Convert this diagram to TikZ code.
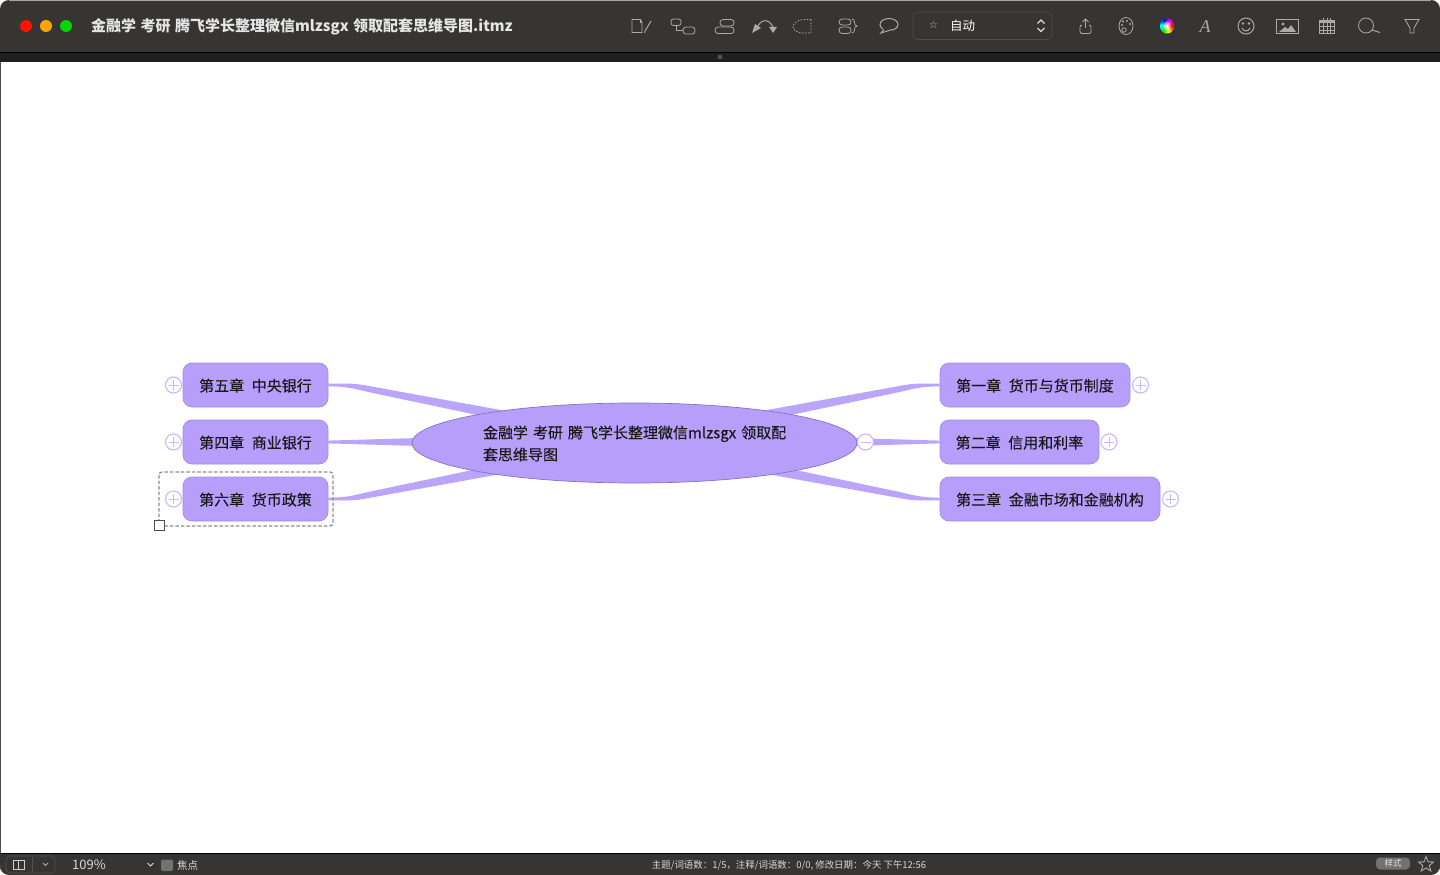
\documentclass[tikz,border=0pt]{standalone}
\usepackage{fontspec}
\setmainfont{Noto Sans CJK SC}
\newfontfamily\wideA[WordSpace=1.15,FakeBold=0.25]{Noto Sans CJK SC}
\newfontfamily\wideB[WordSpace=1.5,FakeBold=0.25]{Noto Sans CJK SC}
\newfontfamily\wideT[WordSpace=1.3]{Noto Sans CJK SC}
\usetikzlibrary{shapes.geometric,calc,arrows.meta}
\pgfdeclarelayer{bg}
\pgfsetlayers{bg,main}
\definecolor{winbar}{HTML}{363534}
\definecolor{strip}{HTML}{1F1F1F}
\definecolor{topicfill}{HTML}{B79EFB}
\definecolor{topicline}{HTML}{A48CE6}
\definecolor{rootline}{HTML}{8672BE}
\definecolor{linkfill}{HTML}{BBA5FB}
\definecolor{ctl}{HTML}{C8B6FF}
\definecolor{ico}{HTML}{ABABAB}
\tikzset{
  topic/.style={draw=topicline,line width=.7pt,fill=topicfill,rounded corners=9pt,minimum height=44pt,inner sep=0pt,text=black!90,text depth=0pt,font=\wideA\fontsize{15}{18}\selectfont},
  ctlcircle/.style={circle,draw=ctl,line width=1.1pt,fill=white,minimum size=16pt,inner sep=0pt},
  link/.style={fill=linkfill,draw=none},
  icon/.style={draw=ico,line width=.8pt,fill=none},
  bartext/.style={text=white,inner sep=0pt},
}
% #1 node anchor, #2 horizontal sign, #3 vertical sign
\newcommand{\taperlink}[3]{%
  \fill[link] ([shift={(0,{-1.4*#3})}]#1) .. controls +({18*#2},0) and +({-15*#2},{-3*#3}) ..
    ([shift={({40*#2},{0.9*#3})}]#1) -- ([shift={({200*#2},{30*#3})}]#1) --
    ([shift={({170*#2},{34.5*#3})}]#1) -- ([shift={({40*#2},{7*#3})}]#1) .. controls +({-15*#2},{-3.5*#3}) and +({18*#2},0) ..
    ([shift={(0,{1.4*#3})}]#1) -- cycle;}
% #1 node anchor, #2 horizontal sign, #3 length
\newcommand{\straightlink}[3]{%
  \fill[link] ([shift={(0,-1.4)}]#1) -- ([shift={({#3*#2},-4)}]#1) -- ([shift={({#3*#2},4)}]#1) -- ([shift={(0,1.4)}]#1) -- cycle;}
\newcommand{\pluscircle}[3]{%
  \node[ctlcircle] (#1) at (#2,#3) {};
  \draw[ctl,line width=1pt] ([xshift=-5pt]#1.center) -- ([xshift=5pt]#1.center) ([yshift=-5pt]#1.center) -- ([yshift=5pt]#1.center);}
\begin{document}
\begin{tikzpicture}[x=1pt,y=-1pt]
\useasboundingbox (0,0) rectangle (1440,875);
\begin{pgfonlayer}{bg}
  \fill[white] (0,0) rectangle (1440,875);
  \fill[winbar,rounded corners=9pt] (0,0) rectangle (1440,40);
  \fill[winbar] (0,20) rectangle (1440,53);
  \draw[gray!70,line width=.7pt] (9,.4) -- (1431,.4);
  \fill[strip] (0,53) rectangle (1440,62);
  \fill[black] (0,52) rectangle (1440,53);
  \fill[gray!50!strip] (720,57) circle (2.5);
  \fill[winbar,rounded corners=9pt] (0,860) rectangle (1440,875);
  \fill[winbar] (0,853) rectangle (1440,866);
  \fill[black] (0,853) rectangle (1440,854);
  \draw[black!70,line width=.8pt] (.4,62) -- (.4,853);
\end{pgfonlayer}

% mind map nodes
\node[ellipse,draw=rootline,line width=.7pt,fill=topicfill,minimum width=445pt,minimum height=80pt,inner sep=0pt] (root) at (634.5,443) {};
\node[text width=304pt,align=left,inner sep=0pt,text=black!90,font=\wideB\fontsize{15}{22}\selectfont] (roottext) at (635,443.5) {金融学 考研 腾飞学长整理微信mlzsgx 领取配\\套思维导图};
\node[topic,minimum width=145pt] (n5) at (255.5,385) {第五章 中央银行};
\node[topic,minimum width=145pt] (n4) at (255.5,442) {第四章 商业银行};
\node[topic,minimum width=145pt] (n6) at (255.5,499) {第六章 货币政策};
\node[topic,minimum width=190pt] (n1) at (1035,385) {第一章 货币与货币制度};
\node[topic,minimum width=159pt] (n2) at (1019.5,442) {第二章 信用和利率};
\node[topic,minimum width=220pt] (n3) at (1050,499) {第三章 金融市场和金融机构};

\begin{pgfonlayer}{bg}
  \taperlink{n5.east}{1}{1}
  \taperlink{n6.east}{1}{-1}
  \taperlink{n1.west}{-1}{1}
  \taperlink{n3.west}{-1}{-1}
  \straightlink{n4.east}{1}{90}
  \straightlink{n2.west}{-1}{90}
\end{pgfonlayer}

\pluscircle{p5}{173.5}{385}
\pluscircle{p4}{173.5}{442}
\pluscircle{p6}{173.5}{499}
\pluscircle{p1}{1140.5}{385}
\pluscircle{p2}{1109}{442}
\pluscircle{p3}{1170.5}{499}
\node[ctlcircle] (m2) at (865.5,442) {};
\draw[ctl,line width=1pt] ([xshift=-5pt]m2.center) -- ([xshift=5pt]m2.center);

% selection
\draw[black!45,line width=1.3pt,dash pattern=on 3.5pt off 2pt,rounded corners=3pt] (159,472) rectangle (333,526);
\node[draw=black!70,line width=.9pt,fill=white,minimum size=10pt,inner sep=0pt] (handle) at (159.5,525) {};

% title bar
\fill[red!85!orange] (26,26) circle (6);
\fill[orange!70!yellow] (46,26) circle (6);
\fill[green!85!black] (66,26) circle (6);
\node[bartext,anchor=west,font=\wideT\fontsize{15}{18}\selectfont\bfseries,text=white!90!black] (title) at (91,27) {金融学 考研 腾飞学长整理微信mlzsgx 领取配套思维导图.itmz};

% toolbar icons
\draw[icon] (632,19.5) -- (640,19.5) -- (642,22) -- (642,32.5) -- (632,32.5) -- cycle;
\draw[icon] (640,19.5) -- (640,22) -- (642,22);
\draw[icon,line width=1pt] (645,31) -- (651,21);
\draw[icon] (645,31) -- (644.5,33);
\draw[icon,rounded corners=2.5pt] (671,19) rectangle (681,25.5);
\draw[icon,rounded corners=3pt] (683,27) rectangle (695,34);
\draw[icon] (676,25.5) -- (676,30) -- (683,30);
\draw[icon,rounded corners=3pt] (720,19.5) rectangle (734,26);
\draw[icon,rounded corners=3pt] (715,27) rectangle (734,33.5);
\draw[icon,line width=1pt] (757,28) .. controls (760,20) and (768,17) .. (773,27);
\fill[ico] (752,33) -- (761,28) -- (755,24) -- cycle;
\fill[ico] (773,33) -- (777,27) -- (769,27) -- cycle;
\draw[icon,dash pattern=on 1.5pt off 1.5pt] (811,19.5) -- (803,19.5) .. controls (797,20) and (793,24) .. (793,27) .. controls (794,31) and (798,33) .. (803,33) -- (811,33) -- cycle;
\draw[icon,rounded corners=3pt] (839,19) rectangle (851,25);
\draw[icon,rounded corners=3pt] (839,27) rectangle (851,33.5);
\draw[icon] (852,19) .. controls (856,19) and (853,26) .. (857,26) .. controls (853,26) and (856,33) .. (852,33);
\draw[icon,line width=1pt] (889,24.5) ellipse (9 and 6);
\fill[winbar] (883,28) rectangle (892,31.5);
\draw[icon,line width=1pt] (884,29.5) -- (881,33) -- (892,29.5);
\draw[draw=white!12!winbar,line width=.7pt,rounded corners=5pt] (913,12) rectangle (1052,39.5);
\node[bartext,font=\fontspec{DejaVu Sans}\fontsize{10}{10}\selectfont,text=white!80!black] (star) at (933.5,25) {☆};
\node[bartext,font=\fontsize{12.5}{14}\selectfont] (auto) at (962.5,26) {自动};
\draw[white!85!black,line width=1.1pt] (1037.5,23.5) -- (1041,20) -- (1044.5,23.5) (1037.5,28) -- (1041,31.5) -- (1044.5,28);
\draw[icon,rounded corners=2pt] (1082,25) -- (1080,25) -- (1080,33.5) -- (1091,33.5) -- (1091,25) -- (1089,25);
\draw[icon] (1085.5,28) -- (1085.5,19) (1082.5,22) -- (1085.5,19) -- (1088.5,22);
\draw[icon] (1126,26) ellipse (7 and 8.5);
\draw[icon] (1124,30) circle (2.2);
\foreach \px/\py in {1123/21.5,1127/21,1130/24,1122/25}{\fill[ico] (\px,\py) circle (1.1);}
\foreach \a in {0,10,...,350}{
  \pgfmathsetmacro{\hh}{\a}
  \definecolor{wheelc}{Hsb}{\hh,1,1}
  \fill[wheelc] (1167,26) -- ({1167+7*cos(\a)},{26+7.5*sin(\a)}) -- ({1167+7*cos(\a+11)},{26+7.5*sin(\a+11)}) -- cycle;}
\fill[white,opacity=.35] (1167,26) ellipse (4.5 and 5);
\fill[white,opacity=.5] (1167,26) ellipse (3 and 3.4);
\fill[white,opacity=.7] (1167,26) ellipse (1.5 and 1.8);
\node[inner sep=0pt,text=ico,font=\fontspec{Liberation Serif}\itshape\fontsize{18}{18}\selectfont] (fonticon) at (1205,27) {A};
\draw[icon,line width=1pt] (1246,26) circle (8);
\fill[ico] (1243,23.5) circle (1.4) (1249,23.5) circle (1.4);
\draw[icon,line width=1pt] (1242,28) .. controls (1244,32) and (1248,32) .. (1250,28);
\draw[icon,line width=1pt] (1276.5,19.5) rectangle (1298,33.5);
\fill[ico] (1279,32) -- (1285,27) -- (1288,29) -- (1291,25) -- (1296,32) -- cycle;
\fill[ico] (1283,24) circle (1.7);
\draw[icon] (1319.5,20) rectangle (1334.5,33.5);
\fill[ico] (1319.5,20) rectangle (1334.5,23);
\foreach \gx in {1323.2,1327,1330.8}{\draw[ico,line width=.7pt] (\gx,18.5) -- (\gx,33.5);}
\foreach \gy in {26.5,30}{\draw[ico,line width=.7pt] (1319.5,\gy) -- (1334.5,\gy);}
\draw[icon] (1366,25.5) circle (7.5);
\draw[icon,line width=1pt] (1372,30) -- (1380,32.5);
\draw[icon] (1405,19.5) -- (1419,19.5) -- (1414,28) -- (1414,33) -- (1410,33) -- (1410,28) -- cycle;

% status bar
\draw[draw=white!14!winbar,line width=.7pt,rounded corners=4pt] (6,856) rectangle (55,873);
\draw[white!80!black,line width=.8pt] (13.5,860) rectangle (24,869) (18,860) -- (18,869);
\draw[white!14!winbar,line width=.7pt] (32,857) -- (32,872);
\draw[ico,line width=.9pt] (43,863) -- (45.5,865.5) -- (48,863);
\node[bartext,anchor=west,font=\fontsize{13}{14}\selectfont,text=white!85!black] (zoomtext) at (72,864.5) {109\%};
\draw[white!85!black,line width=1pt] (147.5,863) -- (150.5,866) -- (153.5,863);
\fill[white!30!winbar,rounded corners=2pt] (161,859.5) rectangle (173,871);
\node[bartext,anchor=west,font=\fontsize{10.5}{12}\selectfont,text=white!85!black] (focus) at (177,865.5) {焦点};
\node[bartext,font=\fontsize{9.45}{10}\selectfont,text=white!85!black] (stats) at (789,865) {主题/词语数：1/5，注释/词语数：0/0, 修改日期：今天 下午12:56};
\node[fill=white!30!winbar,rounded corners=4pt,minimum width=34pt,minimum height=12pt,inner sep=0pt,text=white!90!black,font=\fontsize{8.5}{10}\selectfont] (style) at (1393,863.5) {样式};
\draw[draw=ico,line width=.9pt] (1426,856.5) -- (1428,861.8) -- (1433.5,862) -- (1429.2,865.5) -- (1430.8,871) -- (1426,868) -- (1421.2,871) -- (1422.8,865.5) -- (1418.5,862) -- (1424,861.8) -- cycle;
\end{tikzpicture}
\end{document}
